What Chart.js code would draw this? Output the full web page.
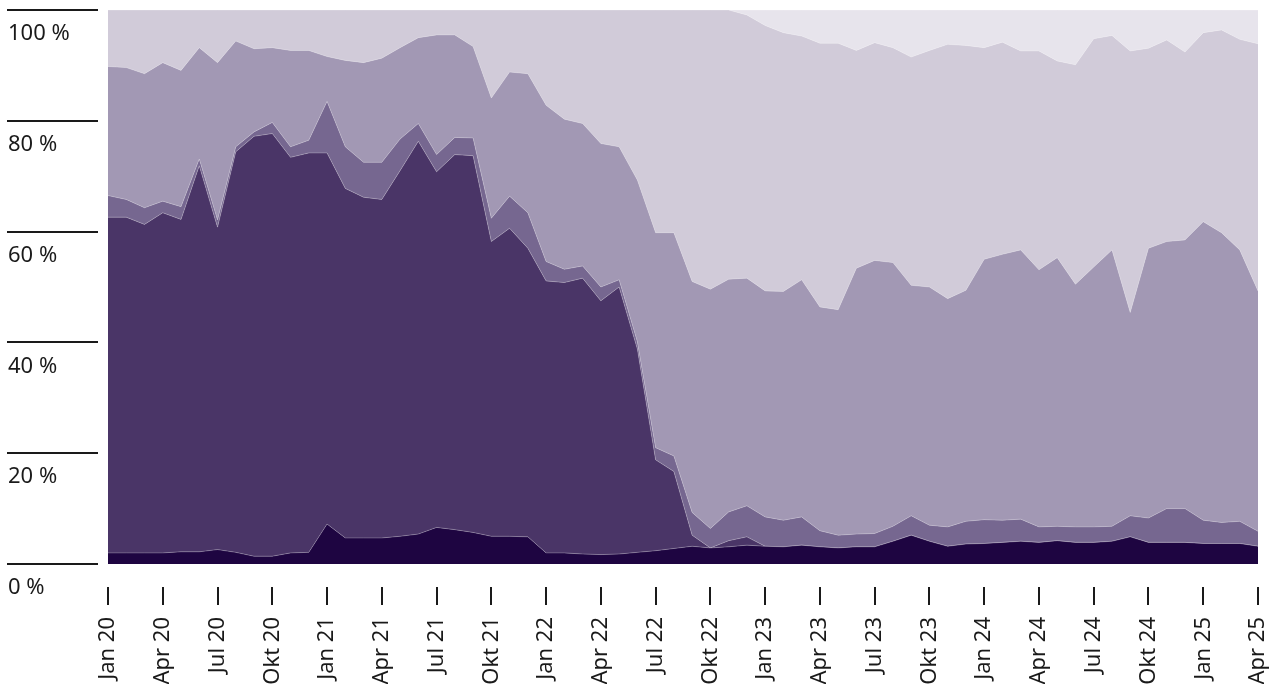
<!DOCTYPE html>
<html lang="de">
<head>
    <meta charset="UTF-8">
    <title>Anteile</title>
    <style>
        body {
            margin: 0;
            background: #fff;
        }
        #wrap {
            width: 1279px;
            height: 684px;
        }
    </style>
    <script src="https://cdn.jsdelivr.net/npm/chart.js"></script>
</head>
<body>

<div id="wrap"><canvas id="shareChart"></canvas></div>

<script>
    const months = [
        'Jan 20', 'Feb 20', 'Mär 20', 'Apr 20', 'Mai 20', 'Jun 20', 'Jul 20', 'Aug 20', 'Sep 20', 'Okt 20', 'Nov 20', 'Dez 20',
        'Jan 21', 'Feb 21', 'Mär 21', 'Apr 21', 'Mai 21', 'Jun 21', 'Jul 21', 'Aug 21', 'Sep 21', 'Okt 21', 'Nov 21', 'Dez 21',
        'Jan 22', 'Feb 22', 'Mär 22', 'Apr 22', 'Mai 22', 'Jun 22', 'Jul 22', 'Aug 22', 'Sep 22', 'Okt 22', 'Nov 22', 'Dez 22',
        'Jan 23', 'Feb 23', 'Mär 23', 'Apr 23', 'Mai 23', 'Jun 23', 'Jul 23', 'Aug 23', 'Sep 23', 'Okt 23', 'Nov 23', 'Dez 23',
        'Jan 24', 'Feb 24', 'Mär 24', 'Apr 24', 'Mai 24', 'Jun 24', 'Jul 24', 'Aug 24', 'Sep 24', 'Okt 24', 'Nov 24', 'Dez 24',
        'Jan 25', 'Feb 25', 'Mär 25', 'Apr 25'
    ];

    // Anteile in %, von unten nach oben gestapelt
    const series1 = [2.0, 2.0, 2.0, 2.0, 2.2, 2.2, 2.6, 2.1, 1.4, 1.4, 2.0, 2.1, 7.2, 4.7, 4.7, 4.7, 5.0, 5.4, 6.6, 6.2,
        5.7, 5.0, 5.0, 4.9, 2.0, 2.0, 1.8, 1.7, 1.8, 2.1, 2.4, 2.8, 3.2, 2.9, 3.1, 3.4, 3.2, 3.1, 3.4, 3.1,
        2.9, 3.1, 3.1, 4.1, 5.2, 4.1, 3.2, 3.6, 3.7, 3.9, 4.1, 3.9, 4.2, 3.9, 3.9, 4.1, 4.9, 3.9, 3.9, 3.9,
        3.7, 3.7, 3.7, 3.2];
    const series2 = [60.6, 60.6, 59.3, 61.4, 60.0, 69.7, 58.2, 72.3, 75.8, 76.3, 71.4, 72.1, 67.0, 63.1, 61.5, 61.1, 66.0, 70.9, 64.2, 67.7,
        68.0, 53.2, 55.6, 52.1, 49.1, 48.8, 49.8, 45.8, 48.2, 36.7, 16.4, 13.9, 2.0, 0.0, 1.1, 1.5, 0, 0, 0, 0,
        0, 0, 0, 0, 0, 0, 0, 0, 0, 0, 0, 0, 0, 0, 0, 0, 0, 0, 0, 0,
        0, 0, 0, 0];
    const series3 = [3.9, 3.2, 3.0, 2.1, 2.3, 1.2, 1.3, 0.9, 0.8, 2.0, 1.9, 2.3, 9.3, 7.5, 6.3, 6.7, 5.7, 3.2, 3.1, 3.1,
        3.2, 4.2, 5.8, 6.4, 3.5, 2.4, 2.2, 2.5, 1.3, 1.3, 2.2, 2.8, 4.1, 3.5, 5.2, 5.6, 5.3, 4.8, 5.1, 2.9,
        2.3, 2.3, 2.4, 2.7, 3.5, 2.9, 3.5, 4.1, 4.3, 4.0, 4.0, 2.8, 2.6, 2.8, 2.8, 2.7, 3.8, 4.4, 6.1, 6.1,
        4.2, 3.8, 4.0, 2.7];
    const series4 = [23.3, 23.8, 24.2, 25.0, 24.6, 20.1, 28.4, 19.1, 15.0, 13.5, 17.4, 16.2, 8.1, 15.6, 18.0, 18.8, 16.5, 15.5, 21.6, 18.5,
        16.5, 21.7, 22.4, 25.1, 28.2, 27.1, 25.7, 25.9, 24.0, 29.2, 38.8, 40.3, 41.7, 43.2, 42.0, 41.1, 40.8, 41.3, 42.8, 40.4,
        40.7, 48.0, 49.3, 47.6, 41.6, 43.0, 41.2, 41.7, 47.0, 48.0, 48.6, 46.4, 48.5, 43.8, 46.9, 49.9, 36.7, 48.7, 48.2, 48.5,
        53.9, 52.3, 49.0, 43.4];
    const series5 = [10.2, 10.4, 11.5, 9.5, 10.9, 6.8, 9.5, 5.6, 7.0, 6.8, 7.3, 7.3, 8.4, 9.1, 9.5, 8.7, 6.8, 5.0, 4.5, 4.5,
        6.6, 15.9, 11.2, 11.5, 17.2, 19.7, 20.5, 24.1, 24.7, 30.7, 40.2, 40.2, 49.0, 50.4, 48.6, 47.5, 47.9, 46.7, 44.0, 47.6,
        48.1, 39.3, 39.3, 38.8, 41.2, 42.7, 45.9, 44.2, 38.2, 38.3, 35.9, 39.5, 35.5, 39.6, 41.2, 38.7, 47.2, 36.1, 36.4, 33.9,
        34.1, 36.6, 38.0, 44.6];
    const series6 = [0, 0, 0, 0, 0, 0, 0, 0, 0, 0, 0, 0, 0, 0, 0, 0, 0, 0, 0, 0,
        0, 0, 0, 0, 0, 0, 0, 0, 0, 0, 0, 0, 0, 0, 0, 0.9, 2.8, 4.1, 4.7, 6.0,
        6.0, 7.3, 5.9, 6.8, 8.5, 7.3, 6.2, 6.4, 6.8, 5.8, 7.4, 7.4, 9.2, 9.9, 5.2, 4.6, 7.4, 6.9, 5.4, 7.6,
        4.1, 3.6, 5.3, 6.1];

    const yTicks = [0, 20, 40, 60, 80, 100];

    const colors = ['#1e0541', '#4a3567', '#766790', '#a298b4', '#d1cbd9', '#e7e4ec'];
    const allSeries = [series1, series2, series3, series4, series5, series6];

    // kurze Striche links (y) und unter der Fläche (x)
    const tickMarks = {
        id: 'tickMarks',
        afterDraw(chart) {
            const { ctx, chartArea, scales } = chart;
            ctx.save();
            ctx.strokeStyle = '#1a1a1a';
            ctx.lineWidth = 2;
            yTicks.forEach(v => {
                const py = Math.round(scales.y.getPixelForValue(v));
                ctx.beginPath();
                ctx.moveTo(7, py);
                ctx.lineTo(chartArea.left - 10, py);
                ctx.stroke();
            });
            months.forEach((m, i) => {
                if (i % 3 !== 0) return;
                const px = Math.round(scales.x.getPixelForValue(i));
                ctx.beginPath();
                ctx.moveTo(px, chartArea.bottom + 23);
                ctx.lineTo(px, chartArea.bottom + 41);
                ctx.stroke();
            });
            ctx.restore();
        }
    };

    const ctx = document.getElementById('shareChart').getContext('2d');
    const chart = new Chart(ctx, {
        type: 'line',
        data: {
            labels: months,
            datasets: allSeries.map((d, i) => ({
                data: d,
                backgroundColor: colors[i],
                borderColor: 'rgba(255, 255, 255, 0.25)',
                borderWidth: 1,
                pointRadius: 0,
                tension: 0,
                fill: i === 0 ? 'origin' : '-1'
            }))
        },
        options: {
            responsive: true,
            maintainAspectRatio: false,
            animation: false,
            layout: { padding: { left: 8, right: 21, top: 10, bottom: 0 } },
            plugins: {
                legend: { display: false },
                tooltip: { enabled: false }
            },
            scales: {
                x: {
                    grid: { display: false, drawTicks: false },
                    border: { display: false },
                    ticks: {
                        autoSkip: false,
                        minRotation: 90,
                        maxRotation: 90,
                        padding: 53,
                        color: '#1a1a1a',
                        font: { family: 'Noto Sans', size: 22 },
                        callback: (v, i) => i % 3 === 0 ? months[i] : null
                    },
                    afterFit: s => {
                        s.height = 120;
                        s.paddingLeft = 0;
                        s.paddingRight = 0;
                    }
                },
                y: {
                    stacked: true,
                    min: 0,
                    max: 100,
                    grid: { display: false, drawTicks: false },
                    border: { display: false },
                    afterBuildTicks: s => { s.ticks = yTicks.map(v => ({ value: v })); },
                    ticks: {
                        crossAlign: 'far',
                        labelOffset: 24,
                        color: '#1a1a1a',
                        font: { family: 'Noto Sans', size: 22 },
                        callback: v => v + ' %'
                    },
                    afterFit: s => {
                        s.width = 100;
                        s.paddingTop = 0;
                        s.paddingBottom = 0;
                    }
                }
            }
        },
        plugins: [tickMarks]
    });
</script>

</body>
</html>
